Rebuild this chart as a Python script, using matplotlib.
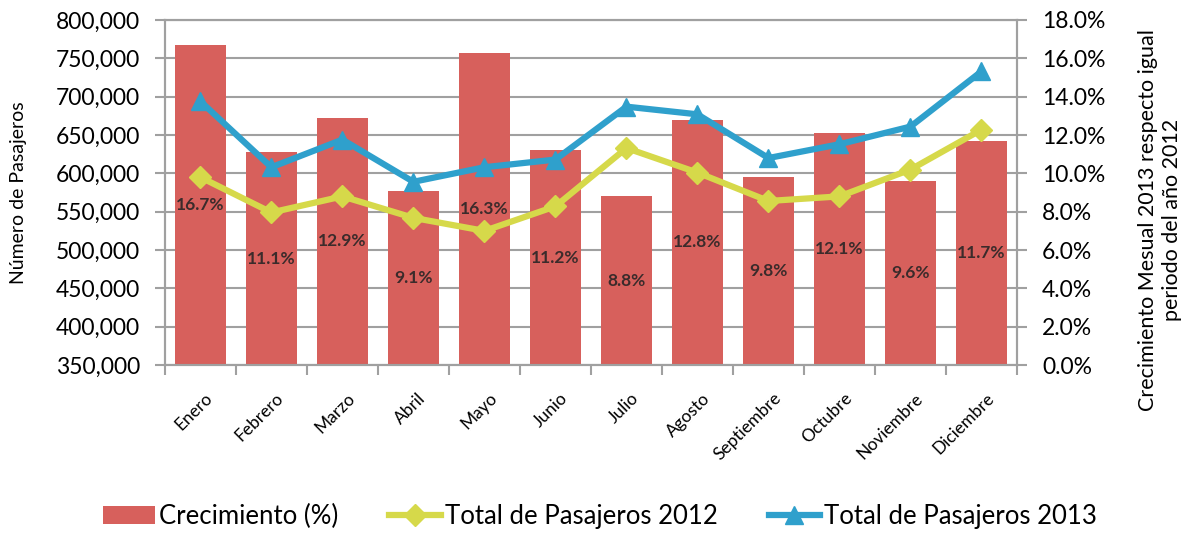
import matplotlib.pyplot as plt
import matplotlib.transforms as mtransforms
import numpy as np

plt.rcParams['font.family'] = ['Lato', 'DejaVu Sans']

meses = ['Enero', 'Febrero', 'Marzo', 'Abril', 'Mayo', 'Junio', 'Julio',
         'Agosto', 'Septiembre', 'Octubre', 'Noviembre', 'Diciembre']
crecimiento = [16.7, 11.1, 12.9, 9.1, 16.3, 11.2, 8.8, 12.8, 9.8, 12.1, 9.6, 11.7]
pasajeros_2012 = [595000, 549000, 570000, 542000, 525000, 557000,
                  633000, 601000, 564000, 570000, 605000, 657000]
pasajeros_2013 = [694000, 608000, 644000, 589000, 608000, 618000,
                  687000, 677000, 620000, 638000, 661000, 733000]
titulo_der = ['Crecimiento Mesual 2013 respecto igual', 'periodo del año 2012']

c_bar = '#D7605C'
c_2012 = '#D6D94A'
c_2013 = '#2FA0CC'
c_grid = '#A0A0A0'

x = np.arange(len(meses))

fig = plt.figure(figsize=(11.86, 5.33), dpi=100)
ax1 = fig.add_axes([0.139, 0.315, 0.7185, 0.6475])
ax2 = ax1.twinx()

# bars (right axis) behind the lines
ax2.set_zorder(1)
ax1.set_zorder(2)
ax1.patch.set_visible(False)

bars = ax2.bar(x, crecimiento, width=0.72, color=c_bar, label='Crecimiento (%)')
ax2.bar_label(bars, labels=[f'{v:.1f}%' for v in crecimiento], label_type='center',
              fontsize=12.5, fontweight='bold', color='#3B2B2B')
ax2.set_ylim(0, 18)
ax2.set_yticks(np.arange(0, 18.1, 2))
ax2.set_yticklabels([f'{v:.1f}%' for v in np.arange(0, 18.1, 2)])
ax2.yaxis.grid(True, color=c_grid, linewidth=1.5)
ax2.set_axisbelow(True)
# right axis title: two lines, each centred on its own
fig.text(0.968, 0.587, titulo_der[0], rotation=90, ha='center', va='center', fontsize=15.5)
fig.text(0.988, 0.587, titulo_der[1], rotation=90, ha='center', va='center', fontsize=15.5)

ax1.plot(x, pasajeros_2012, color=c_2012, linewidth=4.5, marker='D', markersize=11,
         label='Total de Pasajeros 2012')
ax1.plot(x, pasajeros_2013, color=c_2013, linewidth=4.5, marker='^', markersize=13,
         label='Total de Pasajeros 2013')
ax1.set_ylim(350000, 800000)
ax1.set_yticks(np.arange(350000, 800001, 50000))
ax1.set_yticklabels([f'{v:,}' for v in range(350000, 800001, 50000)])
ax1.set_ylabel('Número de Pasajeros', fontsize=14)
ax1.yaxis.set_label_coords(-0.162, 0.5)

ax1.set_xlim(-0.5, len(meses) - 0.5)
ax1.set_xticks(x)
ax1.set_xticklabels(meses, rotation=45, ha='right', rotation_mode='anchor', fontsize=12.5)
ax1.set_xticks(np.arange(-0.5, len(meses)), minor=True)
ax1.tick_params(axis='x', which='major', length=0, pad=18)
ax1.tick_params(axis='x', which='minor', length=7, color=c_grid, width=1.5)
shift = mtransforms.ScaledTranslation(3 / 72, 0, fig.dpi_scale_trans)
for lbl in ax1.get_xticklabels():
    lbl.set_transform(lbl.get_transform() + shift)

for ax in (ax1, ax2):
    ax.tick_params(axis='y', labelsize=16.5, length=7, width=1.5, color=c_grid, pad=11)
    for s in ax.spines.values():
        s.set_color(c_grid)
        s.set_linewidth(1.5)

h1, l1 = ax2.get_legend_handles_labels()
h2, l2 = ax1.get_legend_handles_labels()
fig.legend(h1 + h2, l1 + l2, loc='lower center', ncol=3, frameon=False,
           fontsize=18.5, bbox_to_anchor=(0.506, -0.035), handlelength=2.0,
           columnspacing=2.0, handletextpad=0.15)

plt.savefig('out.png', dpi=100)
